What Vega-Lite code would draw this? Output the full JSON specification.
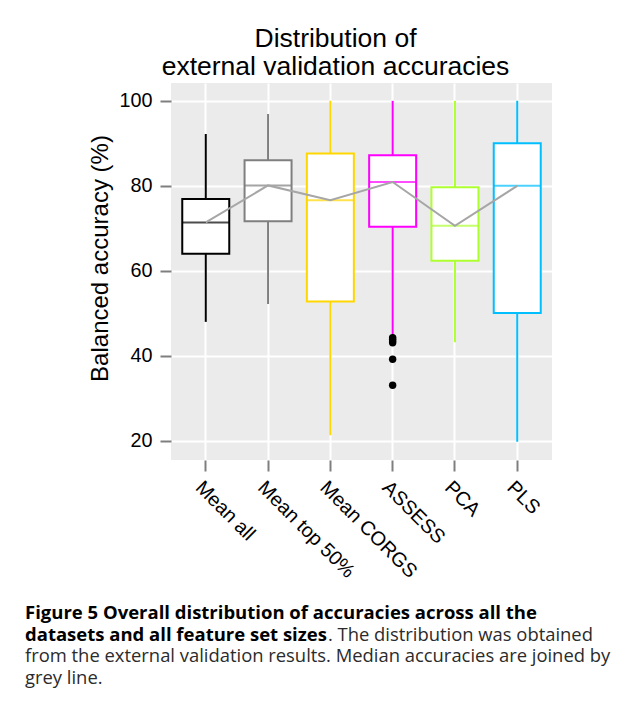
{
  "$schema": "https://vega.github.io/schema/vega-lite/v6.json",
  "padding": {"left": 25, "top": 25, "right": 5, "bottom": 0},
  "background": "white",
  "bounds": "flush",
  "spacing": 148,
  "resolve": {"scale": {"x": "independent", "y": "independent"}},
  "config": {
    "font": "Liberation Sans",
    "view": {"fill": "#EBEBEB", "stroke": null},
    "axis": {
      "domain": false,
      "grid": true,
      "gridColor": "white",
      "gridWidth": 2,
      "tickColor": "#7F7F7F",
      "tickWidth": 2,
      "tickSize": 11,
      "labelColor": "black",
      "labelFontSize": 19.8,
      "labelFont": "Liberation Sans",
      "titleFont": "Liberation Sans",
      "titleFontSize": 24,
      "titleFontWeight": "normal",
      "titleColor": "black"
    }
  },
  "vconcat": [
    {
      "width": 381,
      "height": 377,
      "title": {
        "text": ["Distribution of", "external validation accuracies"],
        "fontSize": 26.5,
        "fontWeight": "normal",
        "font": "Liberation Sans",
        "color": "black",
        "anchor": "middle",
        "frame": "group",
        "dx": -26,
        "lineHeight": 28,
        "offset": 3
      },
      "encoding": {
        "x": {
          "field": "cat",
          "type": "nominal",
          "sort": ["Mean all", "Mean top 50%", "Mean CORGS", "ASSESS", "PCA", "PLS"],
          "scale": {"paddingInner": 0, "paddingOuter": 0.058},
          "axis": {"title": null, "labelAngle": 45, "labelAlign": "left", "labelBaseline": "top", "labelPadding": 6}
        }
      },
      "layer": [
        {
          "data": {"name": "boxes"},
          "mark": {"type": "rule", "strokeWidth": 2},
          "encoding": {
            "y": {
              "field": "lo",
              "type": "quantitative",
              "scale": {"domain": [15.5, 104.2], "nice": false, "zero": false},
              "axis": {"title": "Balanced accuracy (%)", "values": [20, 40, 60, 80, 100], "labelPadding": 8, "titlePadding": 6, "titleY": 175}
            },
            "y2": {"field": "hi"},
            "color": {
              "field": "cat",
              "type": "nominal",
              "scale": {"domain": ["Mean all", "Mean top 50%", "Mean CORGS", "ASSESS", "PCA", "PLS"], "range": ["#000000", "#7F7F7F", "#FFD700", "#FF00FF", "#ADFF2F", "#00BFFF"]},
              "legend": null
            }
          }
        },
        {
          "data": {"name": "boxes"},
          "mark": {"type": "bar", "size": 47, "fill": "white", "strokeWidth": 2},
          "encoding": {
            "y": {"field": "q1", "type": "quantitative"},
            "y2": {"field": "q3"},
            "stroke": {
              "field": "cat",
              "type": "nominal",
              "scale": {"domain": ["Mean all", "Mean top 50%", "Mean CORGS", "ASSESS", "PCA", "PLS"], "range": ["#000000", "#7F7F7F", "#FFD700", "#FF00FF", "#ADFF2F", "#00BFFF"]},
              "legend": null
            }
          }
        },
        {
          "data": {"name": "boxes"},
          "mark": {"type": "tick", "size": 47, "thickness": 2},
          "encoding": {
            "y": {"field": "median", "type": "quantitative"},
            "color": {
              "field": "cat",
              "type": "nominal",
              "scale": {"domain": ["Mean all", "Mean top 50%", "Mean CORGS", "ASSESS", "PCA", "PLS"], "range": ["#000000", "#7F7F7F", "#FFD700", "#FF00FF", "#ADFF2F", "#00BFFF"]},
              "legend": null
            }
          }
        },
        {
          "data": {"name": "boxes"},
          "mark": {"type": "line", "color": "#A6A6A6", "strokeWidth": 2},
          "encoding": {
            "y": {"field": "median", "type": "quantitative"}
          }
        },
        {
          "data": {"name": "outliers"},
          "mark": {"type": "point", "filled": true, "color": "black", "size": 55, "opacity": 1},
          "encoding": {
            "y": {"field": "v", "type": "quantitative"}
          }
        }
      ]
    },
    {
      "width": 381,
      "height": 87,
      "view": {"fill": null, "stroke": null},
      "data": {"name": "caption"},
      "encoding": {
        "x": {"datum": 0, "type": "quantitative", "scale": {"domain": [0, 1]}, "axis": null},
        "y": {"field": "line", "type": "quantitative", "scale": {"domain": [0.5, 4.5], "reverse": true}, "axis": null},
        "text": {"field": "text"}
      },
      "layer": [
        {
          "transform": [{"filter": "datum.part == 'bold'"}],
          "mark": {"type": "text", "align": "left", "baseline": "alphabetic", "font": "Open Sans", "fontWeight": "bold", "fontSize": 18.5, "color": "black", "dx": -146}
        },
        {
          "transform": [{"filter": "datum.part == 'normal'"}],
          "mark": {"type": "text", "align": "left", "baseline": "alphabetic", "font": "Open Sans", "fontWeight": "normal", "fontSize": 18.4, "color": "#2b2b2b", "dx": -146}
        },
        {
          "transform": [{"filter": "datum.part == 'tail'"}],
          "mark": {"type": "text", "align": "left", "baseline": "alphabetic", "font": "Open Sans", "fontWeight": "normal", "fontSize": 18.4, "color": "#2b2b2b", "dx": 157}
        }
      ]
    }
  ],
  "datasets": {
    "boxes": [
      {"cat": "Mean all", "lo": 48.0, "q1": 64.0, "median": 71.4, "q3": 76.9, "hi": 92.2},
      {"cat": "Mean top 50%", "lo": 52.2, "q1": 71.7, "median": 80.1, "q3": 86.0, "hi": 96.9},
      {"cat": "Mean CORGS", "lo": 21.3, "q1": 52.8, "median": 76.6, "q3": 87.6, "hi": 100.0},
      {"cat": "ASSESS", "lo": 44.8, "q1": 70.4, "median": 80.9, "q3": 87.2, "hi": 100.0},
      {"cat": "PCA", "lo": 43.2, "q1": 62.4, "median": 70.6, "q3": 79.7, "hi": 100.0},
      {"cat": "PLS", "lo": 19.8, "q1": 50.1, "median": 80.0, "q3": 90.0, "hi": 100.0}
    ],
    "outliers": [
      {"cat": "ASSESS", "v": 44.3},
      {"cat": "ASSESS", "v": 43.9},
      {"cat": "ASSESS", "v": 43.5},
      {"cat": "ASSESS", "v": 43.1},
      {"cat": "ASSESS", "v": 39.2},
      {"cat": "ASSESS", "v": 33.1}
    ],
    "caption": [
      {"line": 1, "part": "bold", "text": "Figure 5 Overall distribution of accuracies across all the"},
      {"line": 2, "part": "bold", "text": "datasets and all feature set sizes"},
      {"line": 2, "part": "tail", "text": ". The distribution was obtained"},
      {"line": 3, "part": "normal", "text": "from the external validation results. Median accuracies are joined by"},
      {"line": 4, "part": "normal", "text": "grey line."}
    ]
  }
}
